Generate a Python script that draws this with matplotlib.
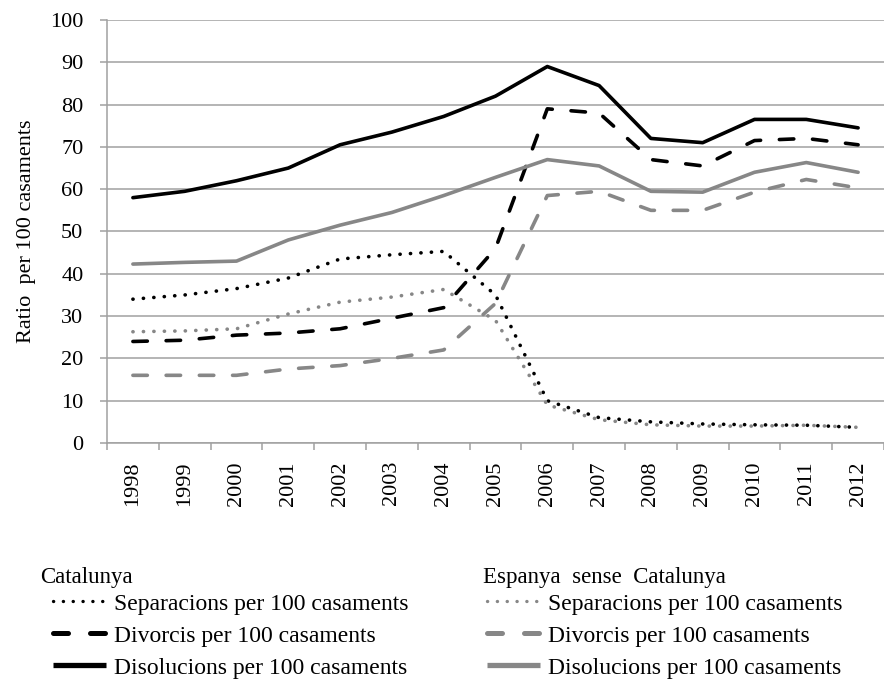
import numpy as np
import matplotlib
matplotlib.use("Agg")
import matplotlib.pyplot as plt
from matplotlib.lines import Line2D

years = ["1998", "1999", "2000", "2001", "2002", "2003", "2004", "2005",
         "2006", "2007", "2008", "2009", "2010", "2011", "2012"]

cat_separacions = [34, 35, 36.5, 39, 43.5, 44.5, 45.3, 35, 10, 6, 5, 4.5, 4.3, 4.2, 3.7]
cat_divorcis = [24, 24.3, 25.5, 26, 27, 29.5, 32, 46, 79, 78, 67, 65.5, 71.5, 72, 70.5]
cat_disolucions = [58, 59.5, 62, 65, 70.5, 73.5, 77.2, 82, 89, 84.5, 72, 71, 76.5, 76.5, 74.5]

esp_separacions = [26.3, 26.5, 27, 30.5, 33.3, 34.5, 36.3, 29, 9, 5.5, 4.3, 4, 4, 4.2, 3.7]
esp_divorcis = [16, 16, 16, 17.5, 18.3, 20, 22, 33, 58.5, 59.5, 55, 55, 59.3, 62.3, 60.3]
esp_disolucions = [42.3, 42.7, 43, 48, 51.5, 54.5, 58.5, 62.8, 67, 65.5, 59.5, 59.3, 64, 66.3, 64]

label_sep = "Separacions per 100 casaments"
label_div = "Divorcis per 100 casaments"
label_dis = "Disolucions per 100 casaments"

plt.rcParams['font.family'] = ['Liberation Serif', 'DejaVu Serif']

FS = 16
LFS = 17
fig = plt.figure(figsize=(8.84, 6.88), dpi=100)
ax = fig.add_axes([107/884, 1-443/688, 777/884, 423/688])

BLACK = "#000000"
GRAY = "#878787"
GRID = "#a0a0a0"
LW = 2.6
DOT = (0, (0.05, 2.85))
DASH = (0, (4.0, 5.2))

x = np.arange(len(years))
series = [
    (cat_separacions, BLACK, DOT),
    (cat_divorcis, BLACK, DASH),
    (cat_disolucions, BLACK, '-'),
    (esp_separacions, GRAY, DOT),
    (esp_divorcis, GRAY, DASH),
    (esp_disolucions, GRAY, '-'),
]
for vals, col, ls in series:
    ax.plot(x, vals, color=col, linewidth=LW, linestyle=ls,
            dash_capstyle='round', solid_capstyle='round',
            dash_joinstyle='round', solid_joinstyle='round', zorder=3)

ax.set_xlim(-0.5, len(years) - 0.5)
ax.set_ylim(0, 100)
ax.set_yticks(np.arange(0, 101, 10))
ax.yaxis.grid(True, color=GRID, linewidth=1.1)
ax.set_axisbelow(True)

ax.set_xticks(x)
ax.set_xticklabels(years, rotation=90, fontsize=FS)
ax.tick_params(axis='x', length=0, pad=13)
ax.set_xticks(np.arange(-0.5, len(years), 1), minor=True)
ax.tick_params(axis='x', which='minor', length=5, color=GRID, width=1.1)
ax.tick_params(axis='y', length=5, color=GRID, width=1.1, labelsize=FS, pad=12)

for s in ['top', 'right']:
    ax.spines[s].set_visible(False)
for s in ['left', 'bottom']:
    ax.spines[s].set_color(GRID)
    ax.spines[s].set_linewidth(1.1)

ax.set_ylabel("Ratio  per 100 casaments", fontsize=FS)
ax.yaxis.set_label_coords(-71/777, 0.5)

fig.text(40/884, 1-578/688, "Catalunya", fontsize=16.5, va='center', ha='left')
fig.text(483/884, 1-578/688, "Espanya  sense  Catalunya", fontsize=16.5, va='center', ha='left')

labels = [label_sep, label_div, label_dis]
for (x0, col) in [(53, BLACK), (487, GRAY)]:
    handles = [
        Line2D([0], [0], color=col, linewidth=2.4, linestyle=(0, (0.05, 2.9)),
               dash_capstyle='round'),
        Line2D([0], [0], color=col, linewidth=3.6, linestyle=(0, (3.0, 4.4)),
               dash_capstyle='round'),
        Line2D([0], [0], color=col, linewidth=3.8, linestyle='-',
               solid_capstyle='butt'),
    ]
    fig.legend(handles, labels, loc='upper left',
               bbox_to_anchor=(x0/884, 1-593/688), frameon=False,
               fontsize=LFS, handlelength=2.25, handletextpad=0.35,
               labelspacing=0.445, borderaxespad=0, borderpad=0)

fig.savefig("out.png", dpi=100)
